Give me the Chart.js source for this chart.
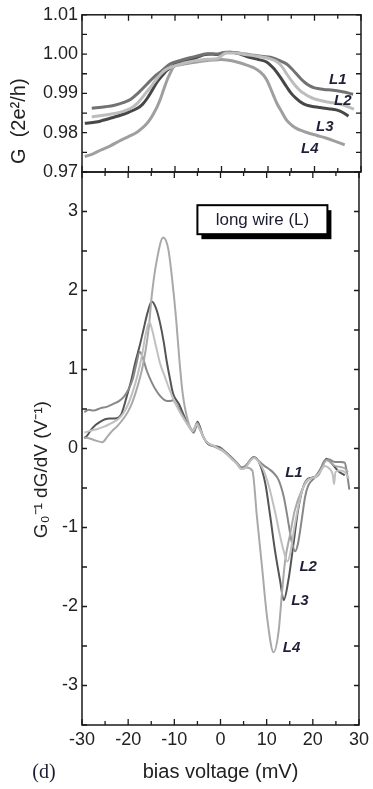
<!DOCTYPE html>
<html><head><meta charset="utf-8">
<script src="https://cdn.jsdelivr.net/npm/chart.js@4.4.1/dist/chart.umd.min.js"></script>
<style>
html,body{margin:0;padding:0;background:#fff;}
#wrap{position:relative;width:373px;height:789px;overflow:hidden;background:#fff;}
canvas{position:absolute;left:0;top:0;}
</style></head><body>
<div id="wrap"><canvas id="topc" width="373" height="789"></canvas><canvas id="botc" width="373" height="789"></canvas></div>
<script>
// ---------- tick labels ----------
const xTicks = [-30, -20, -10, 0, 10, 20, 30];
const gTicks = [0.97, 0.98, 0.99, 1.00, 1.01];
const dTicks = [-3, -2, -1, 0, 1, 2, 3];
const seriesNames = ['L1', 'L2', 'L3', 'L4'];

// ---------- top panel: G (2e^2/h) vs bias ----------
const gL1x = [-27.9,-25,-23,-21,-19.5,-18,-17,-16,-15,-14,-13,-12,-11,-9,-7,-5,-3,-1,1,3,5,7,9,10.5,12,13,14,15,16,17,18,19,20,21,22,24,26,28.3];
const gL1y = [0.9862,0.9866,0.9870,0.9877,0.9885,0.9900,0.9912,0.9924,0.9936,0.9947,0.9956,0.9966,0.9975,0.9983,0.9990,0.9996,1.0001,1.0000,1.0005,1.0004,1.0000,0.9997,0.9994,0.9992,0.9986,0.9981,0.9975,0.9964,0.9951,0.9938,0.9927,0.9919,0.9914,0.9912,0.9910,0.9908,0.9904,0.9898];

const gL2x = [-27.9,-25,-23,-21,-19.5,-18,-17,-16,-15,-14,-13,-12,-11,-9,-7,-5,-3,-1,1,3,5,7,9,10.5,12,13,14,15,16,17,18,19,20,21,22,24,26,28.5];
const gL2y = [0.9840,0.9845,0.9849,0.9855,0.9862,0.9876,0.9890,0.9905,0.9920,0.9936,0.9950,0.9960,0.9966,0.9974,0.9980,0.9984,0.9987,0.9988,1.0003,1.0003,0.9999,0.9996,0.9992,0.9988,0.9980,0.9968,0.9950,0.9933,0.9918,0.9906,0.9898,0.9891,0.9886,0.9883,0.9880,0.9876,0.9871,0.9860];

const gL3x = [-29.4,-27,-25.9,-23,-21.6,-20,-18.1,-17,-16,-15,-13.8,-12.7,-11.7,-10.5,-9.5,-8,-6.7,-5,-3.8,-2,-1,0,1.9,4,6,8,9.7,11.1,12.6,14,15,16.1,17,18.3,20,21.2,23,24.7,26,27.3];
const gL3y = [0.9824,0.9827,0.9830,0.9840,0.9845,0.9852,0.9862,0.9872,0.9887,0.9906,0.9930,0.9946,0.9959,0.9969,0.9977,0.9981,0.9985,0.9993,0.9998,1.0000,0.9999,1.0002,1.0005,1.0000,0.9992,0.9986,0.9980,0.9965,0.9942,0.9917,0.9900,0.9887,0.9878,0.9870,0.9866,0.9864,0.9861,0.9858,0.9852,0.9842];

const gL4x = [-29.4,-27.5,-25.9,-24,-21.6,-20,-18.1,-17,-16,-15.3,-14.6,-13.8,-13.1,-12.4,-11.7,-11,-10.3,-9,-8.1,-6.5,-5.3,-3.5,-1.7,0,1.1,3.3,5.4,7.6,9,9.8,10.4,11.1,11.9,13,14,15,16.1,17.5,19,20.5,22.6,24.5,26.5];
const gL4y = [0.9739,0.9747,0.9756,0.9766,0.9781,0.9790,0.9802,0.9812,0.9824,0.9835,0.9849,0.9867,0.9887,0.9911,0.9934,0.9952,0.9968,0.9973,0.9975,0.9978,0.9980,0.9983,0.9985,0.9986,0.9985,0.9980,0.9972,0.9961,0.9947,0.9933,0.9917,0.9897,0.9875,0.9852,0.9832,0.9820,0.9811,0.9804,0.9798,0.9793,0.9786,0.9778,0.9769];

// ---------- bottom panel: G0^-1 dG/dV vs bias ----------
const dL1x = [-29.5,-28.5,-27.5,-26,-24.5,-23,-22,-21,-20,-19,-18.3,-17.5,-17,-16,-15,-14,-13,-12,-11,-10.3,-9.5,-8.5,-7.5,-6.5,-5.8,-5.0,-4.4,-3.5,-2.5,-1.5,-0.5,0.5,1.5,2.5,3.5,4.5,5.5,6.5,7.2,8.3,9.5,10.5,11.5,12.6,13.7,14.4,15.4,16.2,16.8,17.6,18.3,19,20.4,21.5,22.6,23.5,24.8,26,26.9,27.5,27.9];
const dL1y = [0.46,0.49,0.48,0.51,0.53,0.57,0.60,0.65,0.74,0.88,1.05,1.22,1.18,0.99,0.85,0.74,0.66,0.61,0.60,0.61,0.55,0.45,0.35,0.25,0.20,0.32,0.25,0.12,0.06,0.03,0.01,-0.02,-0.07,-0.12,-0.18,-0.24,-0.22,-0.14,-0.11,-0.16,-0.22,-0.26,-0.31,-0.40,-0.61,-0.83,-1.17,-1.30,-1.20,-0.90,-0.62,-0.47,-0.37,-0.28,-0.15,-0.14,-0.17,-0.17,-0.18,-0.35,-0.52];

const dL2x = [-29.5,-28.5,-27,-25.5,-24,-23,-22,-21,-20,-19,-18,-17,-16.2,-15.4,-14.8,-14,-13.1,-12,-11,-10,-9,-8,-7,-6,-5.2,-4.5,-3.5,-2.5,-1.5,-0.5,0.5,1.5,2.5,3.5,4.5,5.5,6.5,7.3,8.3,9.5,10.5,11.1,12,12.8,13.7,14.5,15.2,16,16.8,17.6,18.5,19.5,20.5,21.5,22.6,23.5,24.3,24.6,24.9,25.8,27,27.8];
const dL2y = [0.20,0.22,0.24,0.27,0.31,0.34,0.38,0.45,0.56,0.72,0.92,1.18,1.45,1.60,1.50,1.30,1.08,0.90,0.74,0.60,0.48,0.38,0.29,0.22,0.30,0.24,0.12,0.06,0.04,0.00,-0.03,-0.08,-0.14,-0.19,-0.26,-0.24,-0.15,-0.12,-0.17,-0.30,-0.48,-0.62,-0.85,-1.08,-1.30,-1.43,-1.30,-1.00,-0.75,-0.55,-0.42,-0.38,-0.36,-0.30,-0.22,-0.25,-0.33,-0.45,-0.30,-0.28,-0.30,-0.38];

const dL3x = [-29.5,-28.8,-28,-27,-26,-25,-24,-22.8,-21.6,-20.3,-19.3,-18.5,-17.5,-16.7,-15.8,-14.9,-14,-13.1,-12.3,-11.7,-11,-10.3,-8.9,-7.8,-6.7,-5.7,-5.0,-4.5,-3.9,-2.5,-0.4,1.4,2.5,3.5,4.7,5.8,7.2,8.3,9.7,10.8,11.8,12.9,13.7,14.7,15.8,16.8,17.9,19,20.4,21.8,23,24,25.4,26.9];
const dL3y = [0.13,0.17,0.24,0.30,0.34,0.37,0.38,0.38,0.42,0.66,0.87,1.08,1.30,1.50,1.72,1.86,1.78,1.59,1.35,1.12,0.90,0.70,0.55,0.40,0.27,0.22,0.34,0.28,0.17,0.05,0.02,-0.06,-0.12,-0.18,-0.25,-0.20,-0.11,-0.17,-0.44,-0.87,-1.29,-1.67,-1.92,-1.67,-1.21,-0.78,-0.49,-0.38,-0.36,-0.25,-0.13,-0.18,-0.28,-0.34];

const dL4x = [-29.5,-28.5,-27,-25.6,-24.5,-23.5,-22.4,-21,-20,-19,-18,-17,-16.2,-15.5,-14.9,-13.9,-12.4,-11.3,-10.3,-9.6,-8.9,-8.2,-7.1,-6,-5.1,-4.5,-3.5,-2.5,-1.5,-0.5,0.5,1.5,2.5,3.5,4.6,5.6,6.9,7.9,9,10.1,11.5,12.6,13.3,14,15.1,16.1,17.6,19,21.2,23,24.8,26.9,27.6];
const dL4y = [0.14,0.13,0.10,0.08,0.15,0.22,0.28,0.38,0.47,0.60,0.78,1.00,1.25,1.55,1.93,2.35,2.67,2.52,2.05,1.63,1.12,0.70,0.36,0.23,0.32,0.25,0.12,0.06,0.03,0.00,-0.03,-0.08,-0.13,-0.19,-0.26,-0.24,-0.28,-0.87,-1.50,-2.14,-2.58,-2.31,-1.84,-1.42,-1.08,-0.78,-0.53,-0.40,-0.34,-0.15,-0.22,-0.25,-0.30];

// ---------- label anchors (data units) ----------
const gLabelX = [25.0, 26.1, 22.2, 19.0];
const gLabelY = [0.9934, 0.9880, 0.9815, 0.9760];
const dLabelX = [15.9, 19.0, 17.2, 15.4];
const dLabelY = [-0.31, -1.50, -1.93, -2.52];
const boxText = 'long wire (L)';
const panelTag = '(d)';

const FONT = "'Liberation Sans', Arial, Helvetica, sans-serif";
const pts = (xs, ys) => xs.map((x, i) => ({x: x, y: ys[i]}));

function frameAndTicks(chart, o) {
  const {ctx, chartArea: a, scales} = chart;
  const xs = scales.x, ys = scales.y;
  ctx.save();
  ctx.strokeStyle = '#1a1a1a';
  ctx.lineWidth = 1.5;
  ctx.strokeRect(a.left, a.top, a.right - a.left, a.bottom - a.top);
  ctx.lineWidth = 1.3;
  ctx.beginPath();
  for (let v = -30; v <= 30.0001; v += 5) {
    const px = xs.getPixelForValue(v);
    const major = Math.abs(v % 10) < 1e-6;
    const len = major ? 6 : 4;
    ctx.moveTo(px, a.top); ctx.lineTo(px, a.top + len);
    ctx.moveTo(px, a.bottom); ctx.lineTo(px, a.bottom - len);
  }
  for (let v = o.yMin; v <= o.yMax + 1e-9; v += o.yMinor) {
    const py = ys.getPixelForValue(v);
    ctx.moveTo(a.left, py); ctx.lineTo(a.left + 5, py);
    ctx.moveTo(a.right, py); ctx.lineTo(a.right - 5, py);
  }
  ctx.stroke();
  // curve labels
  ctx.fillStyle = '#1f1f38';
  ctx.font = 'italic bold 15px ' + FONT;
  ctx.textAlign = 'center';
  ctx.textBaseline = 'middle';
  o.lx.forEach((x, i) => {
    ctx.fillText(seriesNames[i], xs.getPixelForValue(x), ys.getPixelForValue(o.ly[i]));
  });
  ctx.restore();
}

const topPlugin = {
  id: 'topDeco',
  afterDatasetsDraw(chart) {
    frameAndTicks(chart, {yMin: 0.97, yMax: 1.01, yMinor: 0.005, lx: gLabelX, ly: gLabelY});
  }
};
const botPlugin = {
  id: 'botDeco',
  afterDatasetsDraw(chart) {
    frameAndTicks(chart, {yMin: -3.5, yMax: 3.5, yMinor: 0.5, lx: dLabelX, ly: dLabelY});
    const {ctx, scales} = chart;
    const xs = scales.x, ys = scales.y;
    // legend-like box
    const bx = xs.getPixelForValue(-5.0), by = ys.getPixelForValue(3.08);
    const bw = 130, bh = 29;
    ctx.save();
    ctx.fillStyle = '#000';
    ctx.fillRect(bx + 4, by + 5, bw, bh);
    ctx.fillStyle = '#fff';
    ctx.fillRect(bx, by, bw, bh);
    ctx.strokeStyle = '#000';
    ctx.lineWidth = 2;
    ctx.strokeRect(bx, by, bw, bh);
    ctx.fillStyle = '#1c1c30';
    ctx.font = '17px ' + FONT;
    ctx.textAlign = 'center';
    ctx.textBaseline = 'middle';
    ctx.fillText(boxText, bx + bw / 2, by + bh / 2 + 1);
    ctx.font = "20px 'Liberation Serif', 'Times New Roman', serif";
    ctx.fillText(panelTag, 44, 773);
    ctx.restore();
  }
};

Chart.defaults.font.family = FONT;
Chart.defaults.color = '#222';

const topColors = ['#727272', '#bdbdbd', '#474747', '#9f9f9f'];
const botColors = ['#888888', '#c0c0c0', '#555555', '#a9a9a9'];
const order = [1, 3, 0, 2];

function mkSets(list, colors, width) {
  return order.map(i => ({
    label: seriesNames[i],
    data: list[i],
    borderColor: colors[i],
    borderWidth: width,
    pointRadius: 0,
    fill: false,
    cubicInterpolationMode: 'monotone'
  }));
}

new Chart(document.getElementById('topc'), {
  type: 'line',
  data: {datasets: mkSets([pts(gL1x, gL1y), pts(gL2x, gL2y), pts(gL3x, gL3y), pts(gL4x, gL4y)], topColors, 3)},
  options: {
    responsive: false, animation: false, devicePixelRatio: 1,
    layout: {padding: {left: 0, top: 14, right: 12, bottom: 617}},
    plugins: {legend: {display: false}, tooltip: {enabled: false}},
    scales: {
      x: {type: 'linear', min: -30, max: 30, display: false},
      y: {
        type: 'linear', min: 0.97, max: 1.01,
        afterFit: s => { s.width = 82; },
        afterBuildTicks: s => { s.ticks = gTicks.map(v => ({value: v})); },
        grid: {display: false, drawTicks: false},
        border: {display: false},
        ticks: {font: {size: 18}, color: '#222', padding: 4, callback: v => Number(v).toFixed(2)},
        title: {display: true, text: 'G  (2e²/h)          ', font: {size: 20}, color: '#222', padding: {top: 7, bottom: 0}}
      }
    }
  },
  plugins: [topPlugin]
});

new Chart(document.getElementById('botc'), {
  type: 'line',
  data: {datasets: mkSets([pts(dL1x, dL1y), pts(dL2x, dL2y), pts(dL3x, dL3y), pts(dL4x, dL4y)], botColors, 2)},
  options: {
    responsive: false, animation: false, devicePixelRatio: 1,
    layout: {padding: {left: 0, top: 172, right: 12, bottom: 0}},
    plugins: {legend: {display: false}, tooltip: {enabled: false}},
    scales: {
      x: {
        type: 'linear', min: -30, max: 30, position: 'bottom',
        afterFit: s => { s.height = 64; },
        afterBuildTicks: s => { s.ticks = xTicks.map(v => ({value: v})); },
        grid: {display: false, drawTicks: false},
        border: {display: false},
        ticks: {font: {size: 18}, color: '#222', padding: 4, maxRotation: 0, autoSkip: false, callback: v => String(v)},
        title: {display: true, text: 'bias voltage (mV)', font: {size: 20}, color: '#222', padding: {top: 0, bottom: 5}}
      },
      y: {
        type: 'linear', min: -3.5, max: 3.5,
        afterFit: s => { s.width = 82; },
        afterBuildTicks: s => { s.ticks = dTicks.map(v => ({value: v})); },
        grid: {display: false, drawTicks: false},
        border: {display: false},
        ticks: {font: {size: 18}, color: '#222', padding: 4, callback: v => String(v)},
        title: {display: true, text: 'G₀⁻¹ dG/dV (V⁻¹)        ', font: {size: 19}, color: '#222', padding: {top: 30, bottom: 0}}
      }
    }
  },
  plugins: [botPlugin]
});
</script></body></html>
